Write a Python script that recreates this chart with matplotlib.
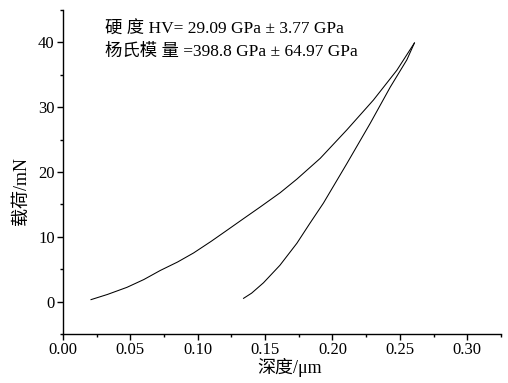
import matplotlib
matplotlib.use('Agg')
import matplotlib.pyplot as plt
from matplotlib.ticker import MultipleLocator

# 字体：西文用 Times 风格，中文回退到 Noto Sans CJK
FONTS = ['Liberation Serif', 'Noto Sans CJK SC']
plt.rcParams['font.family'] = FONTS
plt.rcParams['axes.unicode_minus'] = False

# ==================== 数据 ====================
# 加载曲线 (深度 μm, 载荷 mN)
load_depth = [0.0208, 0.0330, 0.0475, 0.0600, 0.0722, 0.0850, 0.0969, 0.1100,
              0.1217, 0.1340, 0.1464, 0.1612, 0.1736, 0.1909, 0.2107, 0.2304,
              0.2478, 0.2608]
load_force = [0.3, 1.1, 2.2, 3.4, 4.8, 6.1, 7.5, 9.3,
              11.0, 12.8, 14.6, 16.8, 18.9, 22.1, 26.5, 31.1,
              35.7, 39.9]

# 卸载曲线
unload_depth = [0.2608, 0.2552, 0.2429, 0.2280, 0.2107, 0.1933, 0.1830, 0.1736,
                0.1610, 0.1488, 0.1400, 0.1340]
unload_force = [39.9, 37.3, 33.1, 27.5, 21.3, 15.2, 12.0, 9.0,
                5.6, 2.9, 1.3, 0.5]

x_ticks = [0.00, 0.05, 0.10, 0.15, 0.20, 0.25, 0.30]
y_ticks = [0, 10, 20, 30, 40]

info_lines = ['硬 度 HV= 29.09 GPa ± 3.77 GPa',
              '杨氏模 量 =398.8 GPa ± 64.97 GPa']

# ==================== 绘图 ====================
fig = plt.figure(figsize=(5.08, 3.83), dpi=100, facecolor='white')
ax = fig.add_axes([0.124, 0.128, 0.862, 0.846])

ax.plot(load_depth, load_force, color='black', lw=0.75)
ax.plot(unload_depth, unload_force, color='black', lw=0.75)

ax.set_xlim(0, 0.325)
ax.set_ylim(-5, 45)
ax.set_xticks(x_ticks)
ax.set_xticklabels([f'{v:.2f}' for v in x_ticks])
ax.set_yticks(y_ticks)
ax.xaxis.set_minor_locator(MultipleLocator(0.025))
ax.yaxis.set_minor_locator(MultipleLocator(5))

for s in ['top', 'right']:
    ax.spines[s].set_visible(False)
for s in ['left', 'bottom']:
    ax.spines[s].set_linewidth(1.0)

ax.tick_params(which='major', direction='out', length=4, width=1.0,
               labelsize=12, pad=2)
ax.tick_params(which='minor', direction='out', length=2.5, width=1.0)

ax.set_xlabel('深度/μm', fontsize=13)
ax.xaxis.set_label_coords(0.518, -0.075)
ax.set_ylabel('载荷/mN', fontsize=13)
ax.yaxis.set_label_coords(-0.075, 0.44)

ax.text(0.0314, 41.9, info_lines[0], fontsize=12.5, ha='left', va='center')
ax.text(0.0314, 38.5, info_lines[1], fontsize=12.5, ha='left', va='center')

plt.savefig('out.png', dpi=100, facecolor='white')
